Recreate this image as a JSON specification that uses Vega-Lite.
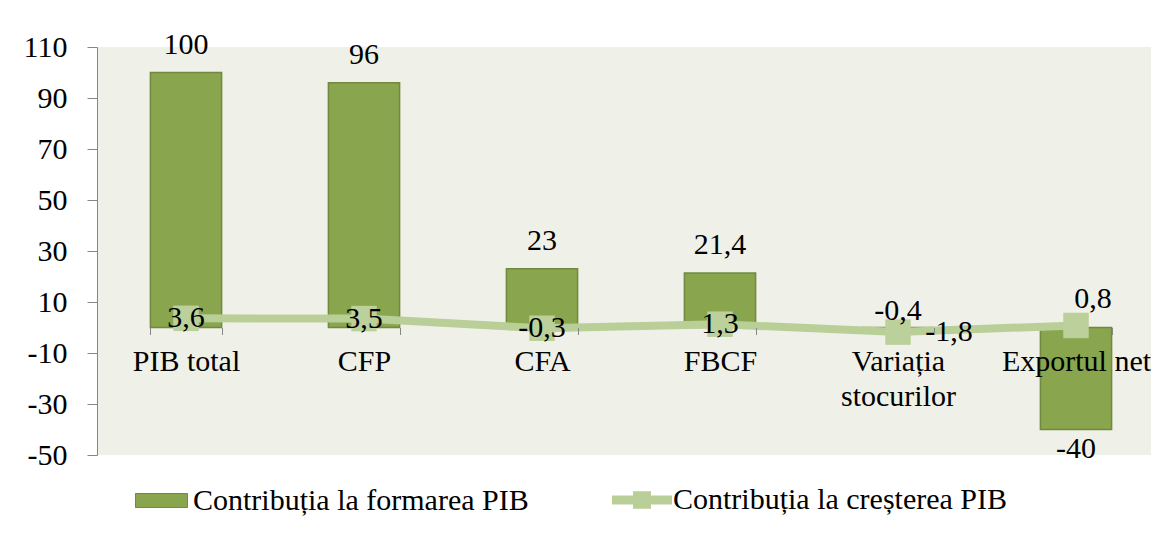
{
  "$schema": "https://vega.github.io/schema/vega-lite/v6.json",
  "width": 1068,
  "height": 408,
  "autosize": {"type": "none"},
  "padding": {"left": 97, "top": 47, "right": 0, "bottom": 83},
  "background": "white",
  "config": {
    "view": {"fill": "#EFF1E9", "stroke": null},
    "font": "'Liberation Serif', 'DejaVu Serif', serif",
    "locale": {"number": {"decimal": ",", "thousands": ".", "grouping": [3], "currency": ["", ""], "minus": "-"}}
  },
  "data": {"values": [
    {"cat": "PIB total", "formare": 100, "crestere": 3.6},
    {"cat": "CFP", "formare": 96, "crestere": 3.5},
    {"cat": "CFA", "formare": 23, "crestere": -0.3},
    {"cat": "FBCF", "formare": 21.4, "crestere": 1.3},
    {"cat": "Variația stocurilor", "formare": -0.4, "crestere": -1.8},
    {"cat": "Exportul net", "formare": -40, "crestere": 0.8}
  ]},
  "encoding": {
    "x": {
      "field": "cat", "type": "nominal", "sort": null,
      "scale": {"paddingInner": 0.6, "paddingOuter": 0.3},
      "axis": {
        "title": null, "orient": "bottom", "offset": -127.5, "domain": false,
        "ticks": true, "tickBand": "extent", "tickSize": 7, "tickColor": "#868686",
        "labelAngle": 0, "labelFontSize": 30, "labelColor": "black", "labelPadding": 12,
        "labelLimit": 0, "labelLineHeight": 35,
        "labelExpr": "datum.value == 'Variația stocurilor' ? ['Variația','stocurilor'] : datum.value",
        "zindex": 1
      }
    }
  },
  "layer": [
    {
      "mark": {"type": "bar", "stroke": "#72893F", "strokeWidth": 1.5},
      "encoding": {
        "y": {
          "field": "formare", "type": "quantitative",
          "scale": {"domain": [-50, 110], "nice": false, "zero": false},
          "axis": {
            "title": null, "values": [-50, -30, -10, 10, 30, 50, 70, 90, 110], "grid": false,
            "domainColor": "#868686", "tickColor": "#868686", "tickSize": 10,
            "labelFontSize": 30, "labelColor": "black", "labelPadding": 20, "zindex": 1
          }
        },
        "fill": {
          "datum": "Contribuția la formarea PIB", "type": "nominal",
          "scale": {"range": ["#89A54D"]},
          "legend": {
            "title": null, "orient": "none", "legendX": 34, "legendY": 423,
            "labelFontSize": 30, "labelColor": "black",
            "labelLimit": 0, "labelOffset": 1, "symbolSize": 3600,
            "symbolType": "M-0.867,-0.233H0.867V0.233H-0.867Z",
            "symbolStrokeColor": "#72893F", "symbolStrokeWidth": 1, "symbolOpacity": 1
          }
        }
      }
    },
    {
      "mark": {"type": "rule", "color": "#868686", "strokeWidth": 1.5},
      "encoding": {"y": {"datum": 0}}
    },
    {
      "mark": {"type": "line", "strokeWidth": 8},
      "encoding": {
        "y": {"field": "crestere", "type": "quantitative"},
        "stroke": {
          "datum": "Contribuția la creșterea PIB", "type": "nominal",
          "scale": {"range": ["#B9CF97"]},
          "legend": {
            "title": null, "orient": "none", "legendX": 515, "legendY": 423,
            "labelFontSize": 30, "labelColor": "black",
            "labelLimit": 0, "labelOffset": 1, "symbolSize": 3600,
            "symbolType": "M-1,-0.15H1V0.15H-1Z M-0.3,-0.29H0.3V0.29H-0.3Z",
            "symbolFillColor": "#B9CF97", "symbolStrokeWidth": 0, "symbolOpacity": 1
          }
        }
      }
    },
    {
      "mark": {"type": "square", "size": 650, "filled": true, "color": "#BBD09A", "opacity": 1},
      "encoding": {"y": {"field": "crestere", "type": "quantitative"}}
    },
    {
      "transform": [{"filter": "datum.formare > 1"}],
      "mark": {"type": "text", "baseline": "alphabetic", "dy": -19, "fontSize": 30, "color": "black"},
      "encoding": {"y": {"field": "formare", "type": "quantitative"}, "text": {"field": "formare", "type": "quantitative", "format": ".1~f"}}
    },
    {
      "transform": [{"filter": "datum.formare < -10"}],
      "mark": {"type": "text", "baseline": "top", "dy": 4, "fontSize": 30, "color": "black"},
      "encoding": {"y": {"field": "formare", "type": "quantitative"}, "text": {"field": "formare", "type": "quantitative", "format": ".1~f"}}
    },
    {
      "transform": [{"filter": "datum.formare < 0 && datum.formare > -10"}],
      "mark": {"type": "text", "baseline": "middle", "dy": -18, "fontSize": 30, "color": "black"},
      "encoding": {"y": {"field": "formare", "type": "quantitative"}, "text": {"field": "formare", "type": "quantitative", "format": ".1~f"}}
    },
    {
      "transform": [{"filter": "datum.formare > 0"}],
      "mark": {"type": "text", "baseline": "middle", "fontSize": 30, "color": "black"},
      "encoding": {"y": {"field": "crestere", "type": "quantitative"}, "text": {"field": "crestere", "type": "quantitative", "format": ".1~f"}}
    },
    {
      "transform": [{"filter": "datum.crestere < -1"}],
      "mark": {"type": "text", "baseline": "middle", "dx": 51, "fontSize": 30, "color": "black"},
      "encoding": {"y": {"field": "crestere", "type": "quantitative"}, "text": {"field": "crestere", "type": "quantitative", "format": ".1~f"}}
    },
    {
      "transform": [{"filter": "datum.formare < -10"}],
      "mark": {"type": "text", "baseline": "middle", "dx": 17, "dy": -26, "fontSize": 30, "color": "black"},
      "encoding": {"y": {"field": "crestere", "type": "quantitative"}, "text": {"field": "crestere", "type": "quantitative", "format": ".1~f"}}
    }
  ]
}
